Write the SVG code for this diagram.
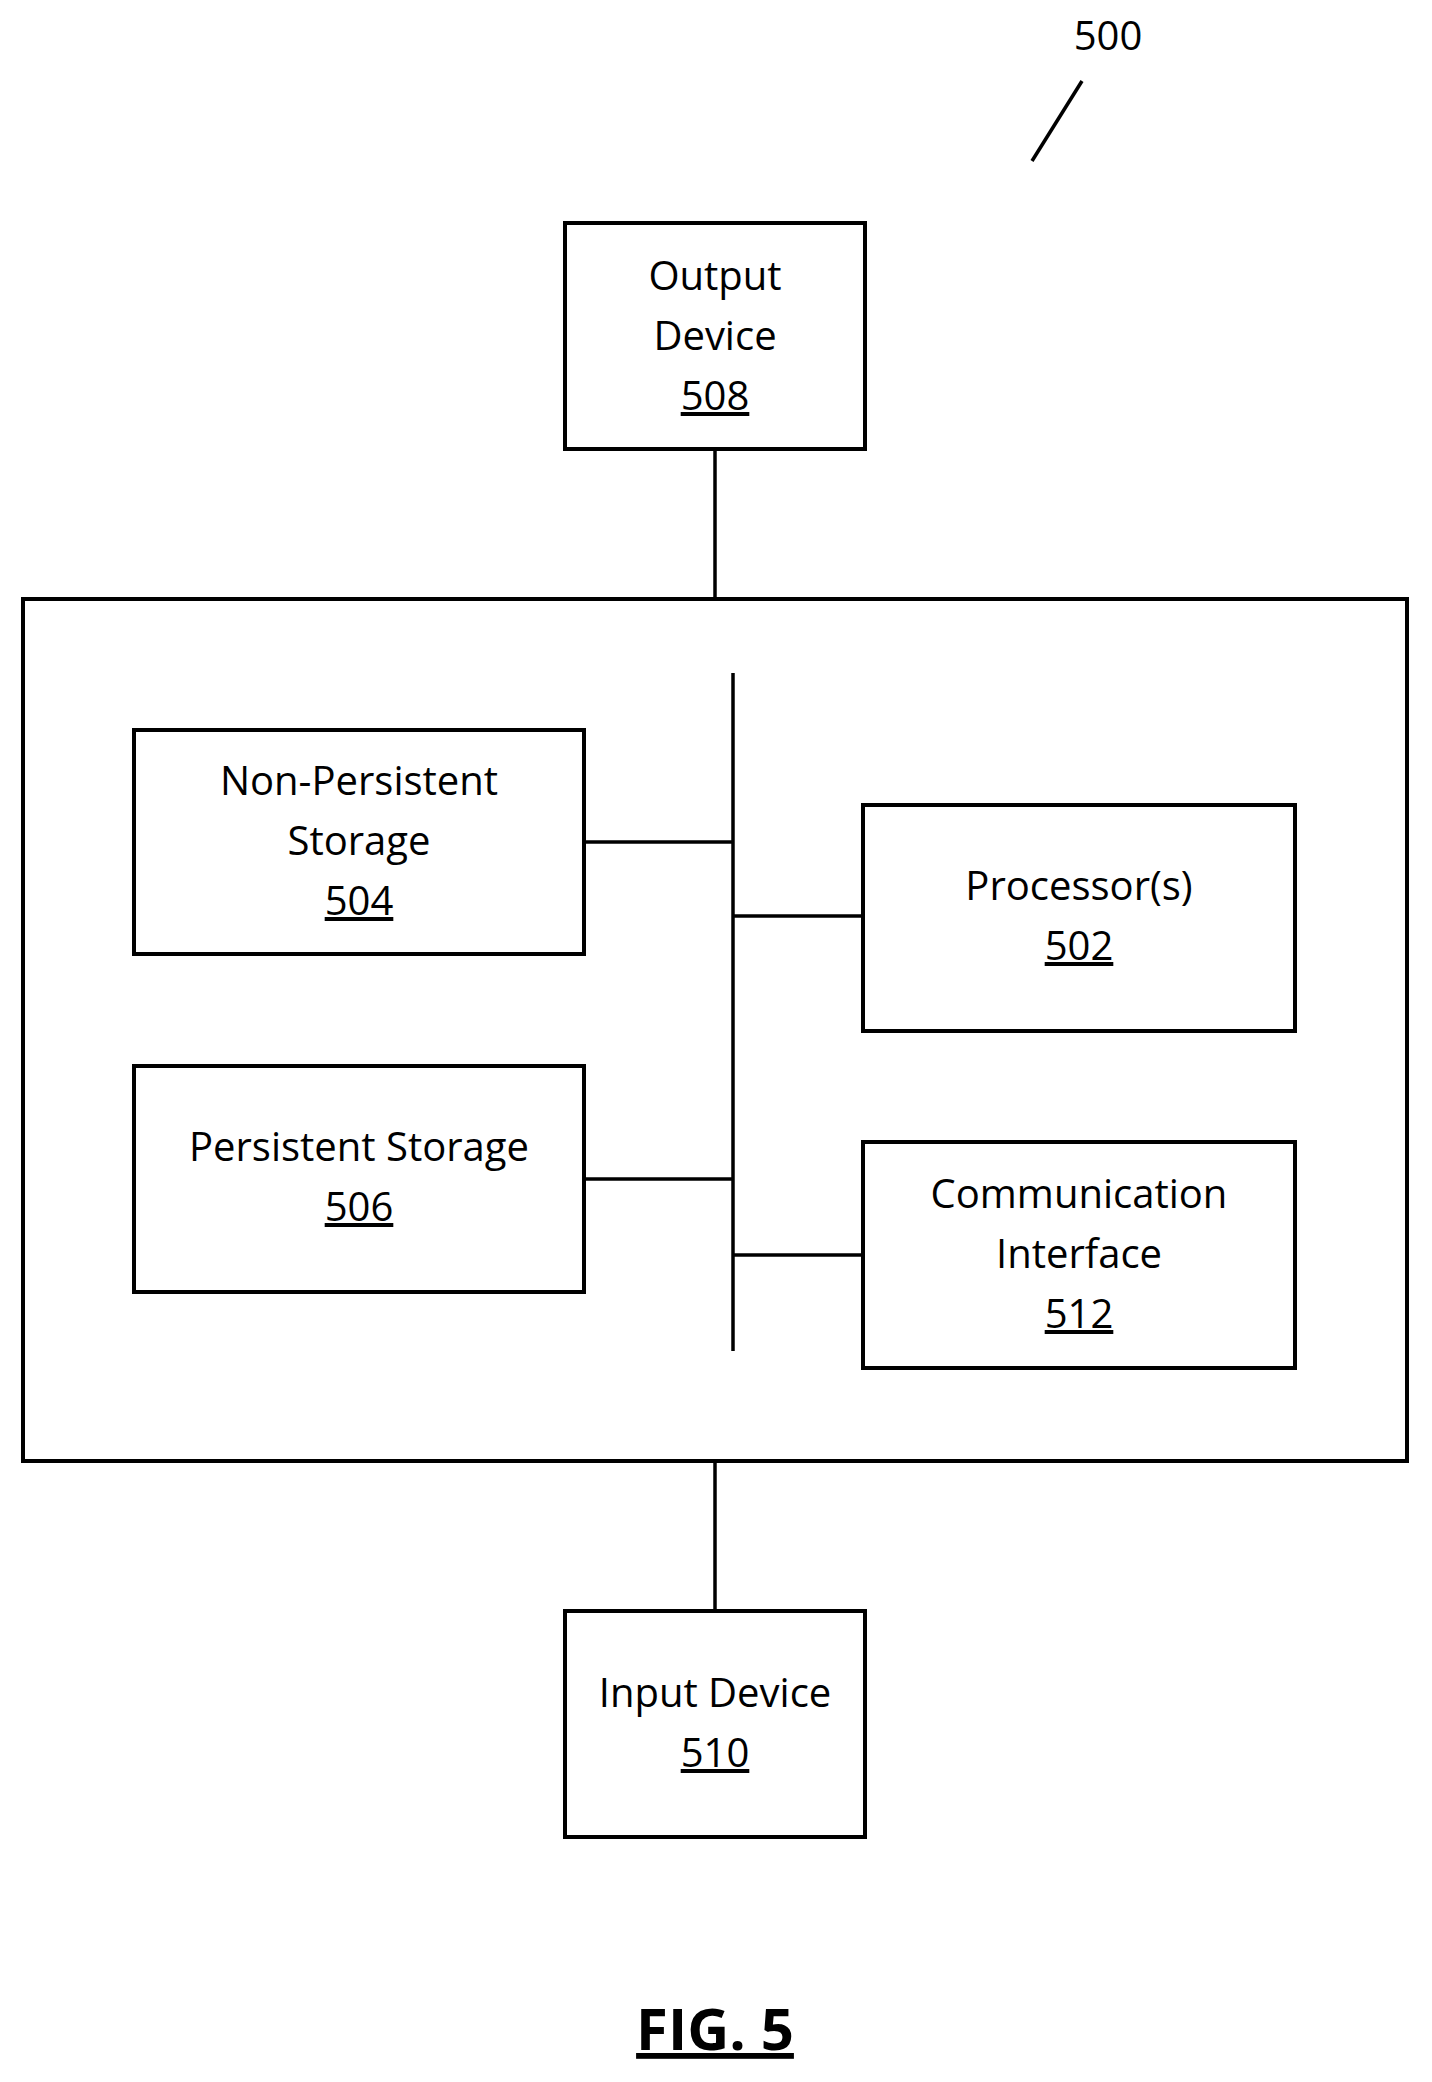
<svg xmlns="http://www.w3.org/2000/svg" width="1432" height="2082" viewBox="0 0 1432 2082">
<style>
.b{fill:none;stroke:#000;stroke-width:4}
.c{stroke:#000;stroke-width:3.5;fill:none}
text{font-family:"Open Sans","Liberation Sans",sans-serif;font-size:40px;text-anchor:middle;fill:#000}
.u{text-decoration:underline}
</style>
<rect width="1432" height="2082" fill="#fff"/>
<text x="1108" y="50">500</text>
<line class="c" x1="1082" y1="81" x2="1032" y2="161"/>
<g id="connectors">
<line class="c" x1="715" y1="449" x2="715" y2="599"/>
<line class="c" x1="715" y1="1461" x2="715" y2="1611"/>
<line class="c" x1="733" y1="673" x2="733" y2="1351"/>
<line class="c" x1="584" y1="842" x2="733" y2="842"/>
<line class="c" x1="733" y1="916" x2="863" y2="916"/>
<line class="c" x1="584" y1="1179" x2="733" y2="1179"/>
<line class="c" x1="733" y1="1255" x2="863" y2="1255"/>
</g>
<g id="output"><rect class="b" x="565" y="223" width="300" height="226"/>
<text x="715" y="290">Output</text><text x="715" y="350">Device</text><text x="715" y="410" class="u">508</text></g>
<g id="system"><rect class="b" x="23" y="599" width="1384" height="862"/></g>
<g id="nonpersistent"><rect class="b" x="134" y="730" width="450" height="224"/>
<text x="359" y="795">Non-Persistent</text><text x="359" y="855">Storage</text><text x="359" y="915" class="u">504</text></g>
<g id="processor"><rect class="b" x="863" y="805" width="432" height="226"/>
<text x="1079" y="900">Processor(s)</text><text x="1079" y="960" class="u">502</text></g>
<g id="persistent"><rect class="b" x="134" y="1066" width="450" height="226"/>
<text x="359" y="1161">Persistent Storage</text><text x="359" y="1221" class="u">506</text></g>
<g id="comm"><rect class="b" x="863" y="1142" width="432" height="226"/>
<text x="1079" y="1208">Communication</text><text x="1079" y="1268">Interface</text><text x="1079" y="1328" class="u">512</text></g>
<g id="input"><rect class="b" x="565" y="1611" width="300" height="226"/>
<text x="715" y="1707">Input Device</text><text x="715" y="1767" class="u">510</text></g>
<text x="715" y="2050" class="u" style="font-size:58px;font-weight:bold">FIG. 5</text>
</svg>
